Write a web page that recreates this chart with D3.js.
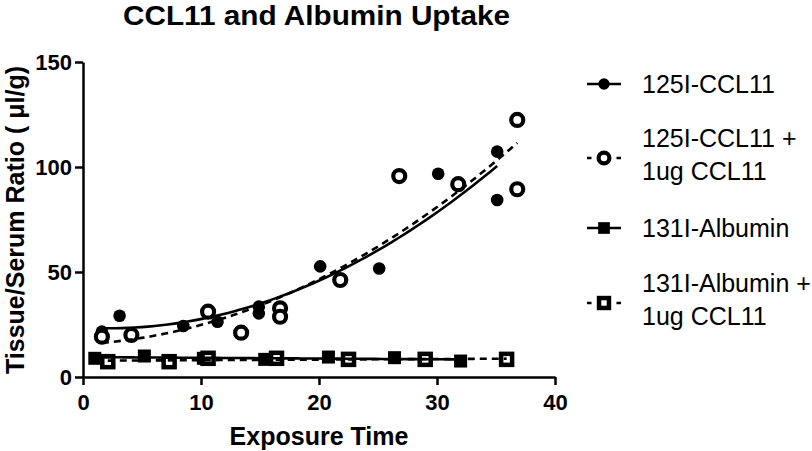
<!doctype html>
<html>
<head>
<meta charset="utf-8">
<title>CCL11 and Albumin Uptake</title>
<style>
  body { margin: 0; background: #fff; }
  svg { display: block; }
  text { font-family: "Liberation Sans", Arial, sans-serif; fill: #000; }
  .axis path, .axis line { stroke: #000; stroke-width: 2.5px; }
  .axis text { font-size: 22px; font-weight: bold; }
</style>
<script src="https://cdn.jsdelivr.net/npm/d3@7/dist/d3.min.js"></script>
</head>
<body>
<svg width="812" height="451"></svg>
<script>

// values
var ccl11T = [1.6, 3.1, 8.5, 11.4, 14.9, 14.9, 20.1, 25.1, 30.1, 35.1, 35.1];
var ccl11V = [21.6, 29.2, 24.3, 26.3, 33.5, 30.3, 52.7, 51.7, 96.8, 107.3, 84.3];
var cclBlockT = [1.6, 4.1, 10.6, 13.4, 16.7, 16.7, 21.8, 26.8, 31.8, 36.8, 36.8];
var cclBlockV = [19.2, 20.0, 31.1, 21.1, 32.7, 28.7, 46.2, 95.7, 91.8, 122.4, 89.4];
var albT = [1.0, 5.2, 10.2, 15.4, 20.8, 26.4, 32.0];
var albV = [8.9, 10.0, 8.9, 8.4, 9.5, 9.2, 7.6];
var albBlockT = [2.1, 7.3, 10.6, 16.4, 22.5, 29.0, 35.9];
var albBlockV = [7.3, 7.3, 8.9, 8.9, 8.4, 8.4, 8.4];

var xTicks = [0, 10, 20, 30, 40];
var yTicks = [0, 50, 100, 150];
var legendLabels = [
  ['125I-CCL11'],
  ['125I-CCL11 +', '1ug CCL11'],
  ['131I-Albumin'],
  ['131I-Albumin +', '1ug CCL11']
];

var $svg = d3.select('svg');

var x = d3.scaleLinear().domain([0, 40]).range([83, 555]);
var y = d3.scaleLinear().domain([0, 150]).range([377, 62]);

// least squares polynomial fit
function polyfit(xs, ys, deg) {
  var n = deg + 1;
  var A = [], b = [];
  for (var i = 0; i < n; i++) {
    A.push([]);
    for (var j = 0; j < n; j++) {
      A[i].push(d3.sum(xs, function(v){ return Math.pow(v, i + j); }));
    }
    b.push(d3.sum(xs, function(v, k){ return Math.pow(v, i) * ys[k]; }));
  }
  // gauss elimination
  for (var c = 0; c < n; c++) {
    for (var r = c + 1; r < n; r++) {
      var f = A[r][c] / A[c][c];
      for (var k = c; k < n; k++) A[r][k] -= f * A[c][k];
      b[r] -= f * b[c];
    }
  }
  var coef = new Array(n);
  for (var r2 = n - 1; r2 >= 0; r2--) {
    var s = b[r2];
    for (var k2 = r2 + 1; k2 < n; k2++) s -= A[r2][k2] * coef[k2];
    coef[r2] = s / A[r2][r2];
  }
  return function(t) {
    return d3.sum(coef, function(cv, p){ return cv * Math.pow(t, p); });
  };
}

var series = [
  { t: ccl11T, v: ccl11V, deg: 2, shape: 'circle', open: false, dash: null },
  { t: cclBlockT, v: cclBlockV, deg: 2, shape: 'circle', open: true, dash: '7,5' },
  { t: albT, v: albV, deg: 1, shape: 'square', open: false, dash: null },
  { t: albBlockT, v: albBlockV, deg: 1, shape: 'square', open: true, dash: '7,5' }
];

// axes
$svg.append('g')
  .attr('class', 'axis')
  .attr('transform', 'translate(0,377)')
  .call(d3.axisBottom(x).tickValues(xTicks).tickSize(8).tickSizeOuter(0).tickPadding(9));

$svg.append('g')
  .attr('class', 'axis')
  .attr('transform', 'translate(83,0)')
  .call(d3.axisLeft(y).tickValues(yTicks).tickSize(8).tickSizeOuter(0).tickPadding(3));

function drawMarker(g, shape, open, cx, cy, scale) {
  scale = scale || 1;
  if (shape === 'circle') {
    g.append('circle')
      .attr('cx', cx).attr('cy', cy)
      .attr('r', (open ? 6 : 6.3) * scale)
      .attr('fill', open ? '#fff' : '#000')
      .attr('stroke', '#000')
      .attr('stroke-width', open ? 4.2 : 0);
  } else {
    var s = (open ? 11 : 13) * scale;
    g.append('rect')
      .attr('x', cx - s / 2).attr('y', cy - s / 2)
      .attr('width', s).attr('height', s)
      .attr('fill', open ? '#fff' : '#000')
      .attr('stroke', '#000')
      .attr('stroke-width', open ? 4.5 : 0);
  }
}

var $marks = $svg.append('g');
var $fits = $svg.append('g');

series.forEach(function(s){
  s.t.forEach(function(t, i){
    drawMarker($marks, s.shape, s.open, x(t), y(s.v[i]));
  });

  var fit = polyfit(s.t, s.v, s.deg);
  var t0 = d3.min(s.t), t1 = d3.max(s.t);
  var pts = d3.range(0, 61).map(function(k){
    var t = t0 + (t1 - t0) * k / 60;
    return [x(t), y(fit(t))];
  });
  $fits.append('path')
    .attr('d', d3.line()(pts))
    .attr('fill', 'none')
    .attr('stroke', '#000')
    .attr('stroke-width', 2.6)
    .attr('stroke-dasharray', s.dash);
});

// legend
var legendY = [84, 158, 228, 303];
var $legend = $svg.append('g');
series.forEach(function(s, i){
  var ly = legendY[i];
  $legend.append('line')
    .attr('x1', 587).attr('x2', 621)
    .attr('y1', ly).attr('y2', ly)
    .attr('stroke', '#000')
    .attr('stroke-width', 2.6)
    .attr('stroke-dasharray', s.dash ? '4.5,25,4.5' : null);
  drawMarker($legend, s.shape, s.open, 604, ly, 0.9);

  var lines = legendLabels[i];
  var top = lines.length === 1 ? ly + 8.5 : ly - 11;
  lines.forEach(function(txt, j){
    $legend.append('text')
      .attr('x', 642)
      .attr('y', top + j * 32.7)
      .style('font-size', '25px')
      .text(txt);
  });
});

// titles
$svg.append('text')
  .attr('x', 123)
  .attr('y', 25)
  .attr('textLength', 387)
  .attr('lengthAdjust', 'spacingAndGlyphs')
  .style('font-size', '28px')
  .style('font-weight', 'bold')
  .text('CCL11 and Albumin Uptake');

$svg.append('text')
  .attr('x', 319)
  .attr('y', 445)
  .attr('text-anchor', 'middle')
  .style('font-size', '25px')
  .style('font-weight', 'bold')
  .text('Exposure Time');

$svg.append('text')
  .attr('transform', 'translate(24,220) rotate(-90)')
  .attr('text-anchor', 'middle')
  .style('font-size', '25px')
  .style('font-weight', 'bold')
  .text('Tissue/Serum Ratio ( \u03bcl/g)');

</script>
</body>
</html>
